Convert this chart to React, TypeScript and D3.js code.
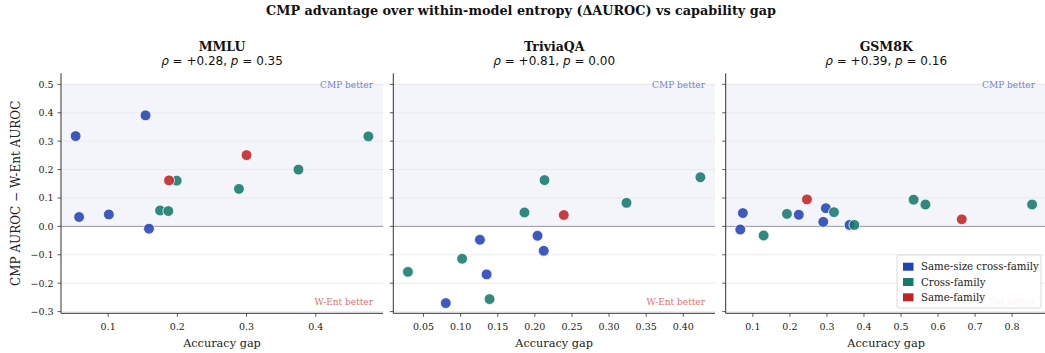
import React from "react";
import * as d3 from "d3";

const groups = ["Same-size cross-family", "Cross-family", "Same-family"];
const groupColors = ["#2443b3", "#167a6b", "#c22326"];

const panelNames = ["MMLU", "TriviaQA", "GSM8K"];
const rhoValues = ["+0.28", "+0.81", "+0.39"];
const pValues = ["0.35", "0.00", "0.16"];

// MMLU
const mmluGap = [0.053, 0.154, 0.058, 0.101, 0.159, 0.476, 0.375, 0.289, 0.199, 0.175, 0.187, 0.300, 0.188];
const mmluDelta = [0.318, 0.391, 0.033, 0.042, -0.008, 0.317, 0.200, 0.132, 0.161, 0.056, 0.054, 0.251, 0.162];
const mmluGroup = [0, 0, 0, 0, 0, 1, 1, 1, 1, 1, 1, 2, 2];

// TriviaQA
const triviaGap = [0.423, 0.3235, 0.213, 0.186, 0.102, 0.029, 0.139, 0.239, 0.2036, 0.212, 0.126, 0.135, 0.080];
const triviaDelta = [0.173, 0.083, 0.163, 0.049, -0.114, -0.160, -0.256, 0.040, -0.033, -0.086, -0.047, -0.169, -0.270];
const triviaGroup = [1, 1, 1, 1, 1, 1, 1, 2, 0, 0, 0, 0, 0];

// GSM8K
const gsmGap = [0.073, 0.066, 0.224, 0.297, 0.290, 0.361, 0.129, 0.192, 0.319, 0.374, 0.534, 0.566, 0.854, 0.246, 0.664];
const gsmDelta = [0.047, -0.011, 0.041, 0.064, 0.016, 0.005, -0.032, 0.044, 0.050, 0.005, 0.094, 0.077, 0.077, 0.095, 0.025];
const gsmGroup = [0, 0, 0, 0, 0, 0, 1, 1, 1, 1, 1, 1, 1, 2, 2];

const xTicks = [
  [0.1, 0.2, 0.3, 0.4],
  [0.05, 0.1, 0.15, 0.2, 0.25, 0.3, 0.35, 0.4],
  [0.1, 0.2, 0.3, 0.4, 0.5, 0.6, 0.7, 0.8],
];
const xTickFormats = [".1f", ".2f", ".1f"];
const yTicks = [-0.3, -0.2, -0.1, 0.0, 0.1, 0.2, 0.3, 0.4, 0.5];

const panelData = [
  { gap: mmluGap, delta: mmluDelta, group: mmluGroup },
  { gap: triviaGap, delta: triviaDelta, group: triviaGroup },
  { gap: gsmGap, delta: gsmDelta, group: gsmGroup },
];

const W = 1045;
const H = 353;
const plotTop = 73.3;
const plotBottom = 313.3;
const panelX: [number, number][] = [
  [61, 383],
  [393.3, 715],
  [725.7, 1046.7],
];

const serif = "'DejaVu Serif', serif";
const sans = "'DejaVu Sans', sans-serif";

function xDomain(vals: number[]): [number, number] {
  const mn = d3.min(vals) as number;
  const mx = d3.max(vals) as number;
  const pad = (mx - mn) * 0.05;
  return [mn - pad, mx + pad];
}

export default function App() {
  const y = d3.scaleLinear().domain([-0.306, 0.539]).range([plotBottom, plotTop]);
  const minusFmt = (v: number, f: string) => d3.format(f)(v).replace("-", "\u2212");

  return (
    <svg width={W} height={H} style={{ position: "absolute", left: 0, top: 0, background: "#fff" }}>
      <text x={521} y={15} textAnchor="middle" fontFamily={serif} fontWeight="bold" fontSize={12.8} fill="#111">
        CMP advantage over within-model entropy (ΔAUROC) vs capability gap
      </text>
      <text
        transform={`translate(19.5,${(plotTop + plotBottom) / 2}) rotate(-90)`}
        textAnchor="middle"
        fontFamily={serif}
        fontSize={12}
        fill="#222"
      >
        CMP AUROC − W-Ent AUROC
      </text>
      {panelData.map((pd, i) => {
        const [x0, x1] = panelX[i];
        const x = d3.scaleLinear().domain(xDomain(pd.gap)).range([x0, x1]);
        const clipId = `clip${i}`;
        return (
          <g key={i}>
            <defs>
              <clipPath id={clipId}>
                <rect x={x0} y={plotTop} width={x1 - x0} height={plotBottom - plotTop} />
              </clipPath>
            </defs>
            <rect x={x0} y={y(0.5)} width={x1 - x0} height={y(0) - y(0.5)} fill="#f4f5fa" />
            {yTicks.map((t) => (
              <line key={t} x1={x0} x2={x1} y1={y(t)} y2={y(t)} stroke="#e6e6ea" strokeWidth={0.8} />
            ))}
            <line x1={x0} x2={x1} y1={y(0)} y2={y(0)} stroke="#9a9aa0" strokeWidth={1} />
            <text x={Math.min(x1, 1045) - 10} y={y(0.5) + 4} textAnchor="end" fontFamily={serif} fontSize={9} fill="#7483d6">
              CMP better
            </text>
            <text x={Math.min(x1, 1045) - 10} y={y(-0.3) - 6.5} textAnchor="end" fontFamily={serif} fontSize={9} fill="#e07272">
              W-Ent better
            </text>
            <g clipPath={`url(#${clipId})`}>
              {pd.gap.map((g, k) => (
                <circle
                  key={k}
                  cx={x(g)}
                  cy={y(pd.delta[k])}
                  r={5.4}
                  fill={groupColors[pd.group[k]]}
                  fillOpacity={0.88}
                  stroke="#fff"
                  strokeWidth={0.8}
                />
              ))}
            </g>
            {/* spines */}
            <line x1={x0} x2={x0} y1={plotTop} y2={plotBottom} stroke="#333" strokeWidth={1} />
            <line x1={x0} x2={x1} y1={plotBottom} y2={plotBottom} stroke="#333" strokeWidth={1} />
            {yTicks.map((t) => (
              <g key={t}>
                <line x1={x0 - 3.5} x2={x0} y1={y(t)} y2={y(t)} stroke="#333" strokeWidth={0.8} />
                {i === 0 && (
                  <text x={x0 - 7.5} y={y(t) + 3.4} textAnchor="end" fontFamily={serif} fontSize={9.5} fill="#222">
                    {minusFmt(t, ".1f")}
                  </text>
                )}
              </g>
            ))}
            {xTicks[i].map((t) => (
              <g key={t}>
                <line x1={x(t)} x2={x(t)} y1={plotBottom} y2={plotBottom + 3.5} stroke="#333" strokeWidth={0.8} />
                <text x={x(t)} y={plotBottom + 16.5} textAnchor="middle" fontFamily={serif} fontSize={9.5} fill="#222">
                  {d3.format(xTickFormats[i])(t)}
                </text>
              </g>
            ))}
            <text x={(x0 + x1) / 2} y={346.5} textAnchor="middle" fontFamily={serif} fontSize={11.3} fill="#222">
              Accuracy gap
            </text>
            <text x={(x0 + x1) / 2} y={50.5} textAnchor="middle" fontFamily={serif} fontWeight="bold" fontSize={12.5} fill="#111">
              {panelNames[i]}
            </text>
            <text x={(x0 + x1) / 2} y={65} textAnchor="middle" fontFamily={sans} fontSize={12} fill="#111">
              <tspan fontStyle="italic">ρ</tspan>
              <tspan>{` = ${rhoValues[i]}, `}</tspan>
              <tspan fontStyle="italic">p</tspan>
              <tspan>{` = ${pValues[i]}`}</tspan>
            </text>
          </g>
        );
      })}
      {/* legend */}
      <g>
        <rect x={897} y={255} width={144} height={53} rx={2} fill="#fff" fillOpacity={0.9} stroke="#d0d0d0" strokeWidth={0.8} />
        {groups.map((g, k) => (
          <g key={g}>
            <rect x={903} y={262.7 + k * 15.3} width={10.5} height={8} fill={groupColors[k]} />
            <text x={921} y={270.3 + k * 15.3} fontFamily={serif} fontSize={10.2} fill="#222">
              {g}
            </text>
          </g>
        ))}
      </g>
    </svg>
  );
}
